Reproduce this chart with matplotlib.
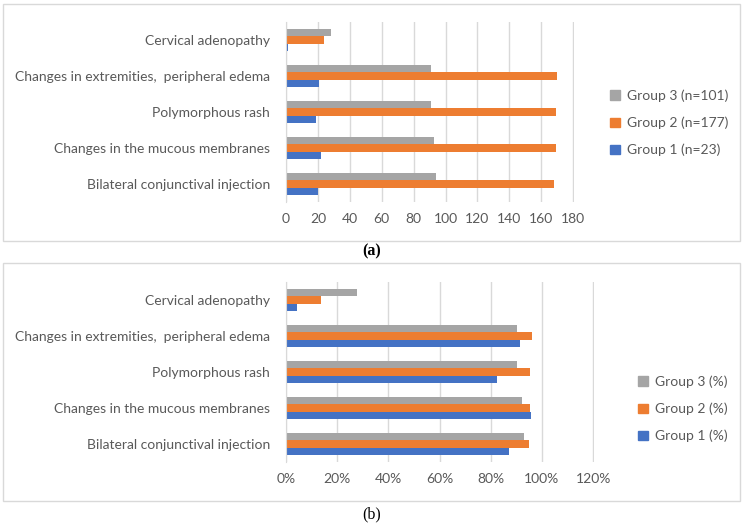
import numpy as np
import matplotlib
matplotlib.use('Agg')
import matplotlib.pyplot as plt
from matplotlib.patches import Rectangle, Patch
from matplotlib.ticker import FuncFormatter

plt.rcParams['font.family'] = ['Lato', 'DejaVu Sans']

# bottom to top, as in the chart
categories = ['Bilateral conjunctival injection', 'Changes in the mucous membranes',
              'Polymorphous rash', 'Changes in extremities,  peripheral edema',
              'Cervical adenopathy']

# panel (a): counts
group1_n = [20, 22, 19, 21, 1]
group2_n = [168, 169, 169, 170, 24]
group3_n = [94, 93, 91, 91, 28]
labels_a = ['Group 1 (n=23)', 'Group 2 (n=177)', 'Group 3 (n=101)']

# panel (b): percentages
group1_pct = [87.0, 95.7, 82.6, 91.3, 4.3]
group2_pct = [94.9, 95.5, 95.5, 96.0, 13.6]
group3_pct = [93.1, 92.1, 90.1, 90.1, 27.7]
labels_b = ['Group 1 (%)', 'Group 2 (%)', 'Group 3 (%)']

colors = ['#4472C4', '#ED7D31', '#A5A5A5']
text_col = '#595959'
grid_col = '#D9D9D9'

W, H = 744, 527
fig = plt.figure(figsize=(W / 100, H / 100), dpi=100)


def frac(x0, y0, x1, y1):
    # pixel box (top-left origin) -> figure fraction rect
    return [x0 / W, 1 - y1 / H, (x1 - x0) / W, (y1 - y0) / H]


# panel frames
for y0, y1 in [(4, 241), (263, 501)]:
    fig.patches.append(Rectangle((3 / W, 1 - y1 / H), 737 / W, (y1 - y0) / H,
                                 transform=fig.transFigure, fill=False,
                                 edgecolor=grid_col, linewidth=1.0))


def draw_panel(ax, series, labels, xmax, step, fmt, leg_xy):
    y = np.arange(len(categories))
    h = 0.195
    handles = []
    for i, (vals, lab) in enumerate(zip(series, labels)):
        ax.barh(y + (i - 1) * h, vals, height=h, color=colors[i], label=lab)
        handles.append(Patch(color=colors[i], label=lab))
    ax.set_ylim(-0.5, len(categories) - 0.5)
    ax.set_xlim(0, xmax * 1.003)
    ax.set_xticks(np.arange(0, xmax + step / 2, step))
    ax.xaxis.set_major_formatter(FuncFormatter(fmt))
    ax.set_yticks(y)
    ax.set_yticklabels(categories)
    ax.grid(axis='x', color=grid_col, linewidth=1.0)
    ax.set_axisbelow(True)
    for s in ['top', 'right', 'bottom']:
        ax.spines[s].set_visible(False)
    ax.spines['left'].set_color(grid_col)
    ax.tick_params(axis='y', length=0, pad=11.5, labelsize=10, labelcolor=text_col)
    ax.tick_params(axis='x', length=0, pad=8, labelsize=10, labelcolor=text_col)
    fig.legend(handles=handles[::-1], loc='center left', bbox_to_anchor=leg_xy,
               frameon=False, fontsize=10, labelcolor=text_col,
               handlelength=0.7, handleheight=0.7, handletextpad=0.5,
               labelspacing=1.05, borderpad=0, borderaxespad=0)


ax_a = fig.add_axes(frac(286, 22, 574, 202))
draw_panel(ax_a, [group1_n, group2_n, group3_n], labels_a, 180, 20,
           lambda v, p: f'{v:.0f}', (610 / W, 1 - 123 / H))

ax_b = fig.add_axes(frac(286, 282, 594, 462))
draw_panel(ax_b, [group1_pct, group2_pct, group3_pct], labels_b, 120, 20,
           lambda v, p: f'{v:.0f}%', (638 / W, 1 - 409 / H))

fig.text(372 / W, 1 - 251 / H, '(a)', ha='center', va='center',
         family='Liberation Serif', fontsize=11.5, fontweight='bold')
fig.text(372 / W, 1 - 514 / H, '(b)', ha='center', va='center',
         family='Liberation Serif', fontsize=11.5)

fig.savefig('out.png', dpi=100, facecolor='white')
